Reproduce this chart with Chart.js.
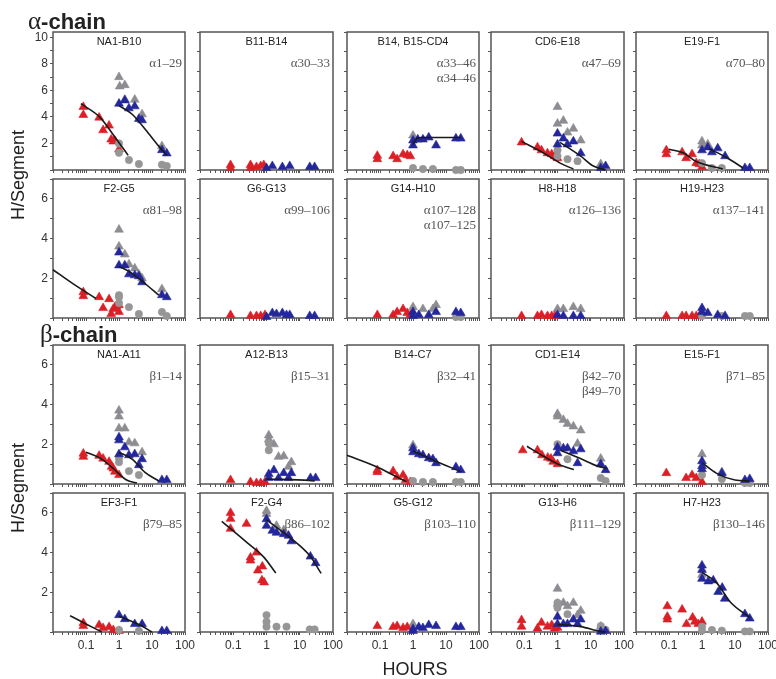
<!DOCTYPE html>
<html><head><meta charset="utf-8">
<script src="https://cdn.jsdelivr.net/npm/chart.js@4.4.0/dist/chart.umd.min.js"></script>
<style>
body{margin:0;background:#fff;width:776px;height:679px;position:relative;overflow:hidden;font-family:'Liberation Sans',Arial,sans-serif;}
canvas{position:absolute;}
.t{position:absolute;white-space:nowrap;}
</style></head><body>
<script>
// ---------- DATA ----------
const panelTitles = ['NA1-B10','B11-B14','B14, B15-CD4','CD6-E18','E19-F1',
  'F2-G5','G6-G13','G14-H10','H8-H18','H19-H23',
  'NA1-A11','A12-B13','B14-C7','CD1-E14','E15-F1',
  'EF3-F1','F2-G4','G5-G12','G13-H6','H7-H23'];
const residueLabels = [['α1–29'],['α30–33'],['α33–46','α34–46'],['α47–69'],['α70–80'],
  ['α81–98'],['α99–106'],['α107–128','α107–125'],['α126–136'],['α137–141'],
  ['β1–14'],['β15–31'],['β32–41'],['β42–70','β49–70'],['β71–85'],
  ['β79–85'],['β86–102'],['β103–110'],['β111–129'],['β130–146']];
const yMaxes = [10.4,7,7,7,7, 7,7,7,7,7, 7,7,7,7,7, 7,7,7,7,7];
const xTickValues = [0.1,1,10,100];
const xTickLabels = ['0.1','1','10','100'];

const redPts = [
 [[0.083,4.75],[0.083,4.15],[0.25,3.95],[0.33,3.0],[0.5,3.35],[0.58,2.3],[0.67,2.15],[0.75,2.2],[1,1.55]],
 [[0.083,0.25],[0.083,0.1],[0.33,0.25],[0.33,0.1],[0.5,0.15],[0.67,0.2],[0.83,0.25]],
 [[0.083,0.72],[0.083,0.55],[0.25,0.7],[0.33,0.55],[0.5,0.8],[0.67,0.75],[0.83,0.7]],
 [[0.083,1.4],[0.25,1.15],[0.33,1.0],[0.5,0.85],[0.67,0.8],[0.83,0.7],[1,0.6]],
 [[0.083,1.0],[0.083,0.8],[0.25,0.9],[0.33,0.6],[0.5,0.8],[0.67,0.35],[0.83,0.3],[1,0.15]],
 [[0.083,1.3],[0.083,1.1],[0.25,1.05],[0.33,0.5],[0.5,0.95],[0.58,0.2],[0.67,0.45],[0.75,0.55],[0.83,0.6],[1,0.65],[1,0.3]],
 [[0.083,0.15],[0.33,0.1],[0.5,0.1],[0.67,0.1],[0.9,0.15]],
 [[0.083,0.15],[0.25,0.15],[0.33,0.3],[0.5,0.45],[0.67,0.25],[0.83,0.15]],
 [[0.083,0.1],[0.25,0.1],[0.33,0.15],[0.5,0.1],[0.67,0.1],[0.83,0.1]],
 [[0.083,0.1],[0.25,0.1],[0.33,0.1],[0.5,0.1],[0.67,0.1],[0.83,0.1]],
 [[0.083,1.53],[0.083,1.37],[0.25,1.42],[0.33,1.28],[0.5,1.12],[0.6,0.87],[0.67,0.78],[0.75,0.62],[1,0.45]],
 [[0.083,0.2],[0.33,0.1],[0.5,0.05],[0.67,0.05],[0.9,0.1]],
 [[0.083,0.7],[0.083,0.6],[0.25,0.65],[0.33,0.35],[0.5,0.45],[0.6,0.2],[0.83,0.1]],
 [[0.09,1.7],[0.25,1.7],[0.34,1.45],[0.51,1.33],[0.64,1.28],[0.74,1.12],[1,1.0]],
 [[0.083,0.55],[0.33,0.3],[0.5,0.45],[0.67,0.3],[1,0.1]],
 [[0.083,0.45],[0.083,0.3],[0.25,0.35],[0.33,0.2],[0.5,0.25],[0.67,0.1],[1,0.05]],
 [[0.083,6.0],[0.083,5.7],[0.083,5.2],[0.25,5.45],[0.33,3.75],[0.33,3.6],[0.5,4.0],[0.55,3.1],[0.75,3.3],[0.73,2.6],[0.85,2.5]],
 [[0.083,0.3],[0.25,0.25],[0.33,0.3],[0.5,0.2],[0.67,0.25]],
 [[0.083,0.6],[0.083,0.27],[0.25,0.18],[0.33,0.47],[0.5,0.27],[0.67,0.35],[0.83,0.18],[1,0.22]],
 [[0.089,1.3],[0.089,0.77],[0.089,0.63],[0.25,1.13],[0.34,0.4],[0.52,0.73],[0.61,0.52],[0.77,0.4],[1,0.52]]
];
const bluePts = [
 [[1,5.0],[1.5,5.25],[2,4.65],[3,4.8],[4,3.85],[5,3.75],[20,1.5],[28,1.25]],
 [[1,0.1],[1.5,0.2],[3,0.15],[5,0.2],[20,0.15],[28,0.15]],
 [[1,1.5],[1,1.25],[1.4,1.55],[2,1.55],[3,1.65],[5,1.25],[20,1.6],[28,1.6]],
 [[1,1.85],[1,1.3],[1.5,1.6],[2,1.3],[3,1.45],[5,0.85],[20,0.1],[28,0.2]],
 [[1,1.0],[1.5,1.15],[2,0.9],[3,1.1],[5,0.7],[20,0.1],[28,0.1]],
 [[1,3.3],[1,2.65],[1.5,2.65],[2,2.2],[3,2.15],[4,2.1],[5,1.8],[20,1.15],[28,1.05]],
 [[1,0.05],[1.5,0.25],[2,0.2],[3,0.25],[4,0.15],[5,0.15],[20,0.1],[28,0.1]],
 [[1,0.3],[1,0.1],[1.5,0.15],[3,0.15],[5,0.3],[20,0.3],[28,0.25]],
 [[1,0.15],[1.5,0.1],[3,0.1],[5,0.1]],
 [[1,0.5],[1,0.3],[1.5,0.25],[3,0.15],[5,0.1]],
 [[1,2.35],[1,2.2],[1,1.5],[1.5,1.85],[2,1.45],[3,1.5],[4,0.95],[5,1.25],[20,0.2],[28,0.2]],
 [[1.17,0.5],[1.17,0.3],[1.67,0.7],[2.3,0.3],[3.3,0.55],[4.6,0.3],[5.6,0.55],[21,0.3],[30,0.3]],
 [[1,1.8],[1,1.6],[1.5,1.5],[2,1.45],[3,1.3],[4,1.25],[5,1.05],[20,0.85],[28,0.7]],
 [[1,1.85],[1,1.55],[1.5,1.8],[2,1.8],[3,1.65],[5,1.75],[4,1.05],[20,1.0],[28,0.7]],
 [[1,1.15],[1,0.9],[1,0.75],[4,0.55],[20,0.2],[28,0.25]],
 [[1,0.85],[1.5,0.65],[3,0.4],[5,0.4],[20,0.05],[28,0.05]],
 [[1,5.68],[1,5.35],[1.5,5.1],[2,5.0],[3.3,4.93],[4.6,4.85],[5.6,4.57],[21,3.8],[30,3.47]],
 [[1,0.15],[1,0.05],[1.5,0.25],[2,0.2],[3,0.35],[5,0.3],[20,0.25],[28,0.25]],
 [[1,0.77],[1,0.4],[1.5,0.4],[2,0.4],[3,0.63],[4,0.4],[5,0.63],[20,0.02],[28,0.05]],
 [[1,3.35],[1,3.13],[1,2.68],[1.55,2.55],[2.2,2.6],[3.1,2.02],[4.1,2.23],[4.9,1.68],[20,0.9],[28,0.68]]
];
const grayTriPts = [
 [[1,7.0],[1.05,6.3],[1.5,6.4],[1.5,5.3],[3,5.3],[5,4.2],[20,1.8]],
 [],
 [[1,1.75]],
 [[1,3.2],[1,2.35],[1.5,2.5],[2,1.9],[3,2.1],[5,1.5],[20,0.3]],
 [[1,1.45],[1,1.25],[1.5,1.3]],
 [[1,4.45],[1,3.6],[1.5,3.2],[2,2.7],[3,2.5],[4,2.2],[5,2.0],[20,1.45]],
 [],
 [[1,0.55],[2,0.45],[4,0.45],[5,0.65]],
 [[1,0.45],[1.5,0.45],[3,0.55],[5,0.45]],
 [[1,0.15]],
 [[1,3.7],[1,3.4],[1,2.8],[1.5,2.8],[2,2.1],[3,2.05],[5,1.6]],
 [[1.17,2.45],[1.17,2.25],[1.67,2.0],[2.3,1.37],[3.3,1.4],[4.6,0.87],[5.6,1.1]],
 [[1,1.95]],
 [[1,3.53],[1,3.4],[1.5,3.23],[2,3.03],[3,2.9],[5,2.7],[4,2.03],[20,1.28]],
 [[1,1.5],[4,0.6]],
 [],
 [[1,6.1],[1,5.95],[2,5.35],[3.3,5.13]],
 [[1,0.4]],
 [[1,2.18],[1,1.43],[1.5,1.47],[2,1.3],[3,1.47],[5,1.07],[4,0.85],[20,0.27]],
 [[1,2.88]]
];
const grayCircPts = [
 [[1,2.0],[1,1.3],[2,0.75],[4,0.45],[20,0.4],[28,0.3]],
 [],
 [[1,0.1],[2,0.05],[4,0.05],[20,0.0],[28,0.0]],
 [[1,1.0],[1,0.7],[2,0.55],[4,0.45]],
 [[1,0.35],[2,0.1],[4,0.1]],
 [[1,1.15],[1,1.05],[1,0.75],[2,0.55],[4,0.2],[20,0.3],[28,0.1]],
 [],
 [[20,0.05],[28,0.05]],
 [],
 [[1,0.1],[4,0.1],[20,0.1],[28,0.1]],
 [[1,1.3],[1,1.1],[2,0.65],[4,0.45]],
 [[1.17,2.05],[1.17,1.7]],
 [[1,0.15],[2,0.1],[4,0.1],[20,0.1],[28,0.1]],
 [[1,2.0],[2,1.25],[20,0.3],[28,0.15]],
 [[1,0.45],[4,0.25],[20,0.05],[28,0.05]],
 [[1,0.1],[4,0.05]],
 [[1,0.85],[1,0.52],[1,0.27],[2,0.27],[4,0.27],[20,0.13],[28,0.13]],
 [],
 [[1,1.47],[1,1.22],[2,0.9],[20,0.3],[28,0.1]],
 [[1,0.27],[1,0.07],[2,0.1],[4,0.07],[20,0.03],[28,0.03]]
];
const fitRed = [
 [[0.07,5.0],[0.27,3.95],[0.65,2.7],[1.9,1.1]],
 [],[],
 [[0.083,1.45],[0.35,0.9],[1.2,0.35],[3,0.05]],
 [[0.1,1.05],[0.27,0.87],[0.62,0.46],[4.3,0.05]],
 [[0.01,2.43],[0.04,1.73],[0.1,1.3],[0.2,0.98]],
 [],[],[],[],
 [[0.1,1.6],[0.27,1.3],[0.65,0.8],[1.7,0.2],[3.5,0.05]],
 [],
 [[0.01,1.45],[0.079,0.87],[0.25,0.45],[0.63,0.12]],
 [[0.12,1.9],[0.38,1.4],[1.23,0.95],[3.1,0.73]],
 [],
 [[0.033,0.82],[0.093,0.43],[0.3,0.0]],
 [[0.045,5.57],[0.26,4.5],[0.83,3.77],[1.9,2.97]],
 [],[],[]
];
const fitBlue = [
 [[1,4.85],[2.5,4.2],[6.3,3.05],[16,1.8],[28,1.1]],
 [],
 [[1,1.3],[1.3,1.6],[2,1.65],[28,1.65]],
 [[1.2,1.4],[5,0.7],[12,0.2],[28,0.0]],
 [[1.63,1.08],[5.7,0.62],[17.6,0.1]],
 [[1,2.6],[2.5,2.25],[6,1.75],[16,1.15]],
 [],[],[],[],
 [[1,1.6],[2.5,1.25],[6,0.6],[16,0.15]],
 [[1,0.25],[20,0.18],[28,0.15]],
 [[1,1.67],[4.2,1.2],[28,0.62]],
 [[1.23,1.7],[4.9,1.28],[16,0.9],[32,0.78]],
 [[1.05,1.05],[2.7,0.55],[10,0.2],[28,0.15]],
 [[1,0.8],[4.3,0.35],[10,0.0]],
 [[1,5.65],[3.3,5.0],[10,4.35],[21,3.8],[44,2.95]],
 [],
 [[1,0.38],[5,0.27],[20,0.02],[28,0.0]],
 [[1,3.0],[2.7,2.5],[7.3,1.5],[28,0.73]]
];

// ---------- LAYOUT / STYLE ----------
const colLefts = [53,200,347,491,636];
const colRights = [185,333,479,624,768];
const rowTops = [32,179,345,493];
const rowBottoms = [170,318,484,632];
const RED='rgb(218,32,38)', BLUE='rgb(36,38,155)', GRAYT='rgb(140,140,145)', GRAYC='rgb(150,150,150)', AXIS='#555';
Chart.defaults.font.family = "'Liberation Sans', Arial, sans-serif";

function addText(html, css){
  const d=document.createElement('div'); d.className='t'; d.innerHTML=html;
  Object.assign(d.style, css); document.body.appendChild(d); return d;
}
const xy = a => a.map(p=>({x:p[0],y:p[1]}));
function ptsDs(a,color,style,r){
  return {data:xy(a),pointStyle:style,pointRadius:r,pointHoverRadius:r,backgroundColor:color,borderColor:color,borderWidth:0.6,clip:false,showLine:false};
}
function lineDs(a){
  return {data:xy(a),showLine:true,borderColor:'#1a1a1a',borderWidth:1.6,pointRadius:0,cubicInterpolationMode:'monotone',fill:false,clip:false};
}
const boxPlugin = {id:'box', beforeDatasetsDraw(c){
  const a=c.chartArea, x=c.ctx; x.save(); x.strokeStyle=AXIS; x.lineWidth=1.5;
  x.strokeRect(a.left,a.top,a.right-a.left,a.bottom-a.top); x.restore(); }};

const padL=40,padT=9,padR=14,padB=24;
for(let i=0;i<20;i++){
  const col=i%5,row=Math.floor(i/5);
  const L=colLefts[col],R=colRights[col],T=rowTops[row],B=rowBottoms[row];
  const W=R-L,H=B-T;
  const cv=document.createElement('canvas');
  cv.width=padL+W+padR; cv.height=padT+H+padB;
  cv.style.left=(L-padL)+'px'; cv.style.top=(T-padT)+'px';
  cv.style.width=cv.width+'px'; cv.style.height=cv.height+'px';
  document.body.appendChild(cv);
  const ds=[];
  if(fitBlue[i].length) ds.push(lineDs(fitBlue[i]));
  if(fitRed[i].length) ds.push(lineDs(fitRed[i]));
  ds.push(ptsDs(bluePts[i],BLUE,'triangle',5.1));
  ds.push(ptsDs(grayCircPts[i],GRAYC,'circle',3.7));
  ds.push(ptsDs(redPts[i],RED,'triangle',5.1));
  ds.push(ptsDs(grayTriPts[i],GRAYT,'triangle',5.1));
  const yMax=yMaxes[i];
  new Chart(cv,{type:'scatter',data:{datasets:ds},options:{
    responsive:false,animation:false,devicePixelRatio:1,
    layout:{padding:{left:0,top:padT,right:padR,bottom:0}},
    plugins:{legend:{display:false},tooltip:{enabled:false}},
    scales:{
      x:{type:'logarithmic',min:0.01,max:100,
        afterFit(s){s.height=padB;s.paddingLeft=0;s.paddingRight=0;},
        afterBuildTicks(s){const t=[];for(let e=-2;e<2;e++){for(let m=1;m<10;m++)t.push({value:m*Math.pow(10,e)});}t.push({value:100});s.ticks=t;},
        ticks:{autoSkip:false,maxRotation:0,minRotation:0,padding:3,color:'#333',font:{size:12},
          callback(v){ if(row!==3) return ''; const k=xTickValues.findIndex(q=>Math.abs(q-v)/q<1e-6); return k>=0?xTickLabels[k]:''; }},
        grid:{drawOnChartArea:false,tickLength:3,color:AXIS,lineWidth:1},
        border:{display:false}},
      y:{min:0,max:yMax,
        afterFit(s){s.width=padL;s.paddingTop=0;s.paddingBottom=0;},
        afterBuildTicks(s){const t=[];for(let v=0;v<=Math.floor(yMax);v++)t.push({value:v});s.ticks=t;},
        ticks:{autoSkip:false,padding:2,color:'#333',font:{size:12},
          callback(v){ return (col===0 && v>0 && v%2===0)? String(v):''; }},
        grid:{drawOnChartArea:false,tickLength:3,color:AXIS,lineWidth:1},
        border:{display:false}}
    }}, plugins:[boxPlugin]});
  addText(panelTitles[i],{left:L+'px',width:W+'px',textAlign:'center',top:(T+3)+'px',fontSize:'11px',lineHeight:'12px',color:'#222'});
  residueLabels[i].forEach((s,k)=>{
    addText(s,{right:(776-R+3)+'px',top:(T+23+k*15)+'px',fontSize:'13px',lineHeight:'15px',fontFamily:"'Liberation Serif','Times New Roman',serif",color:'#555'});
  });
}
addText('<span style="font-family:\'Liberation Serif\',serif;font-weight:normal;font-size:25px">α</span>-chain',{left:'28px',top:'9px',fontSize:'22px',lineHeight:'24px',fontWeight:'bold',color:'#222'});
addText('<span style="font-family:\'Liberation Serif\',serif;font-weight:normal;font-size:25px">β</span>-chain',{left:'40px',top:'322px',fontSize:'22px',lineHeight:'24px',fontWeight:'bold',color:'#222'});
addText('H/Segment',{left:'18px',top:'175px',fontSize:'18px',lineHeight:'20px',color:'#222',transform:'translate(-50%,-50%) rotate(-90deg)'});
addText('H/Segment',{left:'18px',top:'488px',fontSize:'18px',lineHeight:'20px',color:'#222',transform:'translate(-50%,-50%) rotate(-90deg)'});
addText('HOURS',{left:'415px',top:'669px',fontSize:'18px',lineHeight:'20px',color:'#222',transform:'translate(-50%,-50%)'});
</script>
</body></html>
